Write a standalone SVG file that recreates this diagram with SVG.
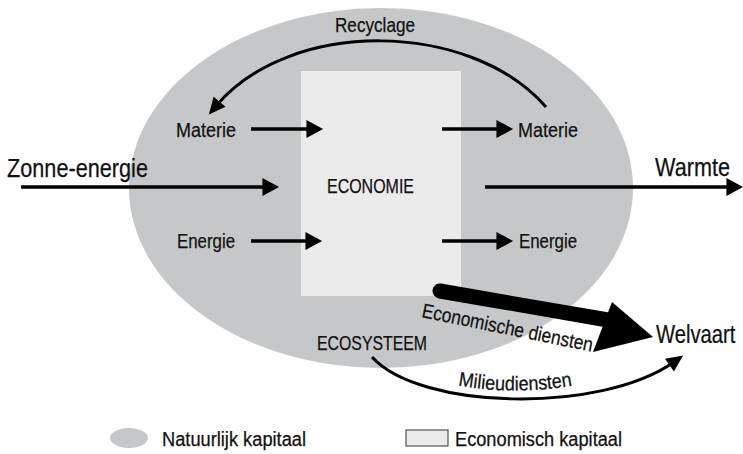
<svg xmlns="http://www.w3.org/2000/svg" width="743" height="454" viewBox="0 0 743 454">
<style>
text{font-family:"Liberation Sans Narrow","Liberation Sans",Arial,sans-serif;fill:#111;stroke:#111;stroke-width:0.25}
.s{font-size:20px}
.l{font-size:25px}
.ln{fill:none;stroke:#000;stroke-width:3.5}
.thin{fill:none;stroke:#000;stroke-width:3}
</style>
<defs>
<marker id="ah" markerUnits="userSpaceOnUse" markerWidth="20" markerHeight="20" viewBox="0 -9 16 18" refX="5" refY="0" orient="auto">
<path d="M0,-8 L15,0 L0,8 Z" fill="#000"/>
</marker>
<marker id="ah2" markerUnits="userSpaceOnUse" markerWidth="20" markerHeight="20" viewBox="0 -9 16 18" refX="5" refY="0" orient="auto">
<path d="M0,-7 L15,0 L0,7 Z" fill="#000"/>
</marker>
</defs>
<g id="natuurlijk-kapitaal">
<ellipse cx="381" cy="188" rx="252" ry="180" fill="#c6c7c8"/>
</g>
<g id="economie">
<rect x="301" y="71" width="160" height="225" fill="#ebebeb"/>
<text class="s" x="327" y="193" textLength="87" lengthAdjust="spacingAndGlyphs">ECONOMIE</text>
</g>
<g id="ecosysteem">
<text class="s" x="317" y="350" textLength="110" lengthAdjust="spacingAndGlyphs">ECOSYSTEEM</text>
</g>
<g id="materie-in"><text class="s" x="176" y="137" textLength="60" lengthAdjust="spacingAndGlyphs">Materie</text></g>
<g id="materie-uit"><text class="s" x="518" y="137" textLength="60" lengthAdjust="spacingAndGlyphs">Materie</text></g>
<g id="energie-in"><text class="s" x="177" y="248" textLength="58" lengthAdjust="spacingAndGlyphs">Energie</text></g>
<g id="energie-uit"><text class="s" x="519" y="248" textLength="58" lengthAdjust="spacingAndGlyphs">Energie</text></g>
<g id="zonne-energie"><text class="l" x="7" y="177" textLength="141" lengthAdjust="spacingAndGlyphs">Zonne-energie</text></g>
<g id="warmte"><text class="l" x="655" y="176" textLength="75" lengthAdjust="spacingAndGlyphs">Warmte</text></g>
<g id="welvaart"><text class="l" transform="translate(656,343) scale(0.81,1)" x="0" y="0">Welvaart</text></g>
<g id="connectors">
<line class="ln" x1="251" y1="129" x2="312" y2="129" marker-end="url(#ah)"/>
<line class="ln" x1="442" y1="129" x2="502" y2="129" marker-end="url(#ah)"/>
<line class="ln" x1="21" y1="187" x2="268" y2="187" marker-end="url(#ah)"/>
<line class="ln" x1="485" y1="187" x2="732" y2="187" marker-end="url(#ah)"/>
<line class="ln" x1="251" y1="241" x2="311" y2="241" marker-end="url(#ah)"/>
<line class="ln" x1="442" y1="241" x2="502" y2="241" marker-end="url(#ah)"/>
<path class="thin" d="M546,107 C470,20 290,18 216,106" marker-end="url(#ah2)"/>
<text class="s" x="335" y="32" textLength="80" lengthAdjust="spacingAndGlyphs">Recyclage</text>
<path class="thin" d="M372,357 C420,410 600,414 674,362" marker-end="url(#ah2)"/>
<path id="mpath" d="M455,385 Q515,396 576,385" fill="none"/>
<text class="s"><textPath href="#mpath" startOffset="3" textLength="115" lengthAdjust="spacingAndGlyphs">Milieudiensten</textPath></text>
<line x1="440" y1="291" x2="608" y2="320" stroke="#000" stroke-width="15" stroke-linecap="round"/>
<polygon points="612,302 653,337 593,352" fill="#000"/>
<text class="s" transform="translate(421,317) rotate(11.5)" x="0" y="0" textLength="174" lengthAdjust="spacingAndGlyphs">Economische diensten</text>
</g>
<g id="legend">
<ellipse cx="129" cy="438" rx="19" ry="10" fill="#c6c7c8"/>
<text class="s" x="162" y="446" textLength="144" lengthAdjust="spacingAndGlyphs">Natuurlijk kapitaal</text>
<rect x="406" y="430" width="42" height="16" fill="#ebebeb" stroke="#333" stroke-width="1"/>
<text class="s" x="455" y="446" textLength="167" lengthAdjust="spacingAndGlyphs">Economisch kapitaal</text>
</g>
</svg>
